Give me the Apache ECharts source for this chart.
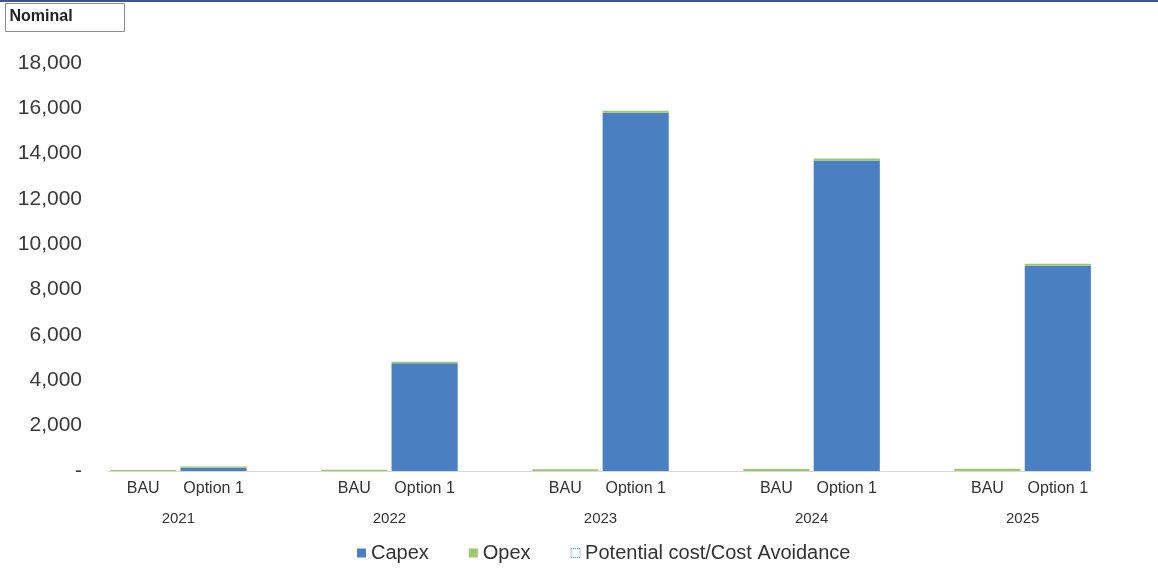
<!DOCTYPE html>
<html>
<head>
<meta charset="utf-8">
<script src="https://cdn.jsdelivr.net/npm/echarts@6/dist/echarts.min.js"></script>
<style>
html,body{margin:0;padding:0;background:#fff;}
#c{width:1158px;height:569px;}
</style>
</head>
<body>
<div id="c"></div>
<script>
// Categories (blank slot between year groups, as in the source)
const categories = ['BAU','Option 1','', 'BAU','Option 1','', 'BAU','Option 1','', 'BAU','Option 1','', 'BAU','Option 1'];
const years = ['2021','2022','2023','2024','2025'];
const yearGroupSizes = [3,3,3,3,2]; // slots per year group
const capex = [0, 140, null, 0, 4750, null, 0, 15800, null, 0, 13700, null, 0, 9050];
const opex  = [40, 60, null, 50, 70, null, 80, 90, null, 90, 90, null, 100, 90];
const potential = [];
const yTicks = { min: 0, max: 18000, interval: 2000 };

// group centres for year labels (index positions on the category axis)
const yearCentres = [];
(function(){ let start = 0; yearGroupSizes.forEach(function(n, i){ const used = (i < yearGroupSizes.length-1) ? n-1 : n; yearCentres.push(start + (used-1)/2); start += n; }); })();

const chart = echarts.init(document.getElementById('c'));
chart.setOption({
  animation: false,
  backgroundColor: '#ffffff',
  textStyle: { fontFamily: 'Liberation Sans, Arial, sans-serif' },
  graphic: [
    { type: 'rect', left: 0, top: 0, shape: { width: 1158, height: 2 }, style: { fill: '#3b5687' } },
    { type: 'group', left: 5, top: 3, children: [
      { type: 'rect', shape: { width: 119, height: 28 }, style: { fill: '#fff', stroke: '#8a8a8a', lineWidth: 1 } },
      { type: 'text', left: 4, top: 5, style: { text: 'Nominal', font: 'bold 16px Liberation Sans, Arial, sans-serif', fill: '#222' } }
    ]}
  ],
  legend: {
    bottom: 1,
    left: 352,
    itemWidth: 9, itemHeight: 9, itemGap: 40,
    textStyle: { fontSize: 20, color: '#333', fontFamily: 'Liberation Sans, Arial, sans-serif' },
    data: [
      { name: 'Capex', icon: 'rect' },
      { name: 'Opex', icon: 'rect' },
      { name: 'Potential cost/Cost Avoidance', icon: 'rect', itemStyle: { color: '#ffffff', borderColor: '#3b9b9b', borderWidth: 1, borderType: 'dotted' } }
    ]
  },
  grid: { left: 108, right: 65, top: 63, bottom: 98, containLabel: false },
  xAxis: [
    {
      type: 'category', data: categories, position: 'bottom',
      axisLine: { show: true, lineStyle: { color: '#d8d8d8', width: 1 } },
      axisTick: { show: false },
      axisLabel: { interval: 0, fontSize: 16, color: '#333', margin: 10 }
    },
    {
      type: 'value', position: 'bottom', offset: 29,
      min: -0.5, max: categories.length - 0.5,
      axisLine: { show: false }, axisTick: { show: false }, splitLine: { show: false },
      axisLabel: {
        fontSize: 15, color: '#333', margin: 11,
        customValues: yearCentres,
        formatter: function(v){ const i = yearCentres.indexOf(v); return i >= 0 ? years[i] : ''; }
      }
    }
  ],
  yAxis: {
    type: 'value', min: yTicks.min, max: yTicks.max, interval: yTicks.interval,
    axisLine: { show: false }, axisTick: { show: false }, splitLine: { show: false },
    axisLabel: {
      fontSize: 21, color: '#3a3a3a', margin: 26,
      formatter: function(v){ return v === 0 ? '-' : v.toLocaleString('en-US'); }
    }
  },
  series: [
    { name: 'Capex', type: 'bar', stack: 'a', xAxisIndex: 0, data: capex, barCategoryGap: '6%',
      itemStyle: { color: '#4a80c2' } },
    { name: 'Opex', type: 'bar', stack: 'a', xAxisIndex: 0, data: opex, barCategoryGap: '6%',
      itemStyle: { color: '#9cc86e' } },
    { name: 'Potential cost/Cost Avoidance', type: 'bar', stack: 'a', xAxisIndex: 0, data: potential,
      itemStyle: { color: '#ffffff', borderColor: '#3b9b9b', borderType: 'dotted' } }
  ]
});
</script>
</body>
</html>
